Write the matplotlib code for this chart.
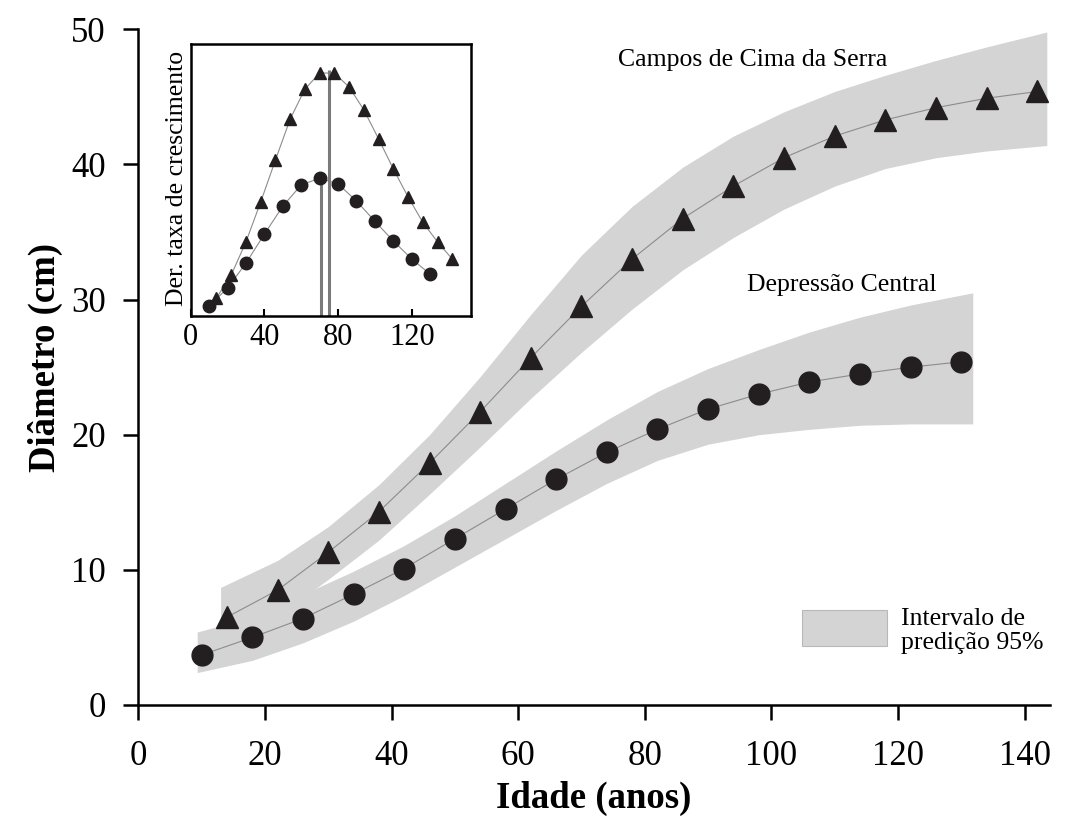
import numpy as np
import matplotlib
matplotlib.use("Agg")
import matplotlib.pyplot as plt
from matplotlib.patches import Rectangle

plt.rcParams['font.family'] = ['Liberation Serif', 'DejaVu Serif']

# Campos de Cima da Serra (triangles)
idade_cs = [14, 22, 30, 38, 46, 54, 62, 70, 78, 86, 94, 102, 110, 118, 126, 134, 142]
diam_cs = [6.5, 8.5, 11.3, 14.3, 17.9, 21.7, 25.7, 29.5, 33.0, 36.0, 38.4, 40.5,
           42.1, 43.3, 44.2, 44.9, 45.4]
banda_x_cs = [13, 22, 30, 38, 46, 54, 62, 70, 78, 86, 94, 102, 110, 118, 126, 134, 143.5]
banda_sup_cs = [8.7, 10.7, 13.2, 16.3, 20.0, 24.3, 28.9, 33.3, 36.9, 39.8, 42.1, 43.9,
                45.4, 46.6, 47.7, 48.7, 49.8]
banda_inf_cs = [4.0, 6.6, 9.3, 12.2, 15.6, 19.1, 22.7, 26.1, 29.3, 32.2, 34.6, 36.7,
                38.4, 39.7, 40.5, 41.0, 41.4]

# Depressao Central (circles)
idade_dc = [10, 18, 26, 34, 42, 50, 58, 66, 74, 82, 90, 98, 106, 114, 122, 130]
diam_dc = [3.7, 5.0, 6.4, 8.2, 10.1, 12.3, 14.5, 16.7, 18.7, 20.4, 21.9, 23.0,
           23.9, 24.5, 25.0, 25.4]
banda_x_dc = [9.3, 18, 26, 34, 42, 50, 58, 66, 74, 82, 90, 98, 106, 114, 122, 131.8]
banda_sup_dc = [5.4, 6.5, 8.2, 9.9, 11.8, 14.0, 16.4, 18.8, 21.1, 23.2, 24.9, 26.3,
                27.6, 28.7, 29.6, 30.5]
banda_inf_dc = [2.4, 3.3, 4.6, 6.2, 8.1, 10.2, 12.3, 14.4, 16.4, 18.1, 19.3, 20.0,
                20.4, 20.7, 20.8, 20.8]

# inset: growth rate (cm/ano)
taxa_x_cs = idade_cs
taxa_cs = [0.035, 0.079, 0.143, 0.220, 0.301, 0.380, 0.438, 0.469, 0.469, 0.442,
           0.398, 0.342, 0.284, 0.230, 0.181, 0.143, 0.110]
taxa_x_dc = [10, 20, 30, 40, 50, 60, 70, 80, 90, 100, 110, 120, 130]
taxa_dc = [0.019, 0.054, 0.102, 0.158, 0.212, 0.253, 0.266, 0.255, 0.222, 0.183,
           0.145, 0.110, 0.081]
pico_idade = [70.7, 75.2]
pico_taxa = [0.268, 0.475]

banda_cor = '#d4d4d4'
marca_cor = '#231f20'
linha_cor = '#8c8c8c'

fig = plt.figure(figsize=(10.78, 8.17), dpi=100)
ax = fig.add_axes([0.1283, 0.1371, 0.8457, 0.827])

ax.fill_between(banda_x_cs, banda_inf_cs, banda_sup_cs, color=banda_cor, lw=0, zorder=1)
ax.fill_between(banda_x_dc, banda_inf_dc, banda_sup_dc, color=banda_cor, lw=0, zorder=1)
ax.plot(idade_cs, diam_cs, color=linha_cor, lw=0.8, zorder=2)
ax.plot(idade_dc, diam_dc, color=linha_cor, lw=0.8, zorder=2)
ax.plot(idade_cs, diam_cs, '^', color=marca_cor, ms=16, mec=marca_cor, zorder=3)
ax.plot(idade_dc, diam_dc, 'o', color=marca_cor, ms=15, mec=marca_cor, zorder=3)

ax.set_xlim(0, 144)
ax.set_ylim(0, 50)
ax.set_xticks(range(0, 141, 20))
ax.set_yticks(range(0, 51, 10))
for s in ['top', 'right']:
    ax.spines[s].set_visible(False)
for s in ['left', 'bottom']:
    ax.spines[s].set_linewidth(1.8)
ax.tick_params(axis='both', direction='out', length=10.5, width=1.8, labelsize=25)
ax.tick_params(axis='x', pad=15)
ax.tick_params(axis='y', pad=13)

ax.set_xlabel('Idade (anos)', fontsize=26.5, fontweight='bold')
ax.set_ylabel('Diâmetro (cm)', fontsize=26.5, fontweight='bold')
ax.xaxis.set_label_coords(0.5, -0.112)
ax.yaxis.set_label_coords(-0.083, 0.515)

ax.text(75.7, 47.7, 'Campos de Cima da Serra', fontsize=18.5, va='center')
ax.text(96.1, 31.1, 'Depressão Central', fontsize=18.5, va='center')

ax.add_patch(Rectangle((104.8, 4.37), 13.5, 2.66, facecolor=banda_cor,
                       edgecolor='#b8b8b8', lw=0.8, zorder=2))
ax.text(120.4, 5.5, 'Intervalo de\npredição 95%', fontsize=18.5, va='center',
        linespacing=1.1)

# inset
ins = fig.add_axes([0.1769, 0.6132, 0.2597, 0.3329])
ins.plot(taxa_x_cs, taxa_cs, color=linha_cor, lw=0.8, zorder=2)
ins.plot(taxa_x_dc, taxa_dc, color=linha_cor, lw=0.8, zorder=2)
ins.vlines(pico_idade, 0, pico_taxa, colors='#7a7a7a', lw=2.2, zorder=2)
ins.plot(taxa_x_cs, taxa_cs, '^', color=marca_cor, ms=8.5, zorder=3)
ins.plot(taxa_x_dc, taxa_dc, 'o', color=marca_cor, ms=9, zorder=3)
ins.set_xlim(0, 152)
ins.set_ylim(0, 0.525)
ins.set_xticks([0, 40, 80, 120])
ins.set_yticks([])
for s in ins.spines.values():
    s.set_linewidth(1.8)
ins.tick_params(axis='x', direction='in', length=5, width=1.5, labelsize=22, pad=5)
ins.set_ylabel('Der. taxa de crescimento', fontsize=18.5)
ins.yaxis.set_label_coords(-0.01, 0.505)

fig.savefig('out.png', dpi=100)
